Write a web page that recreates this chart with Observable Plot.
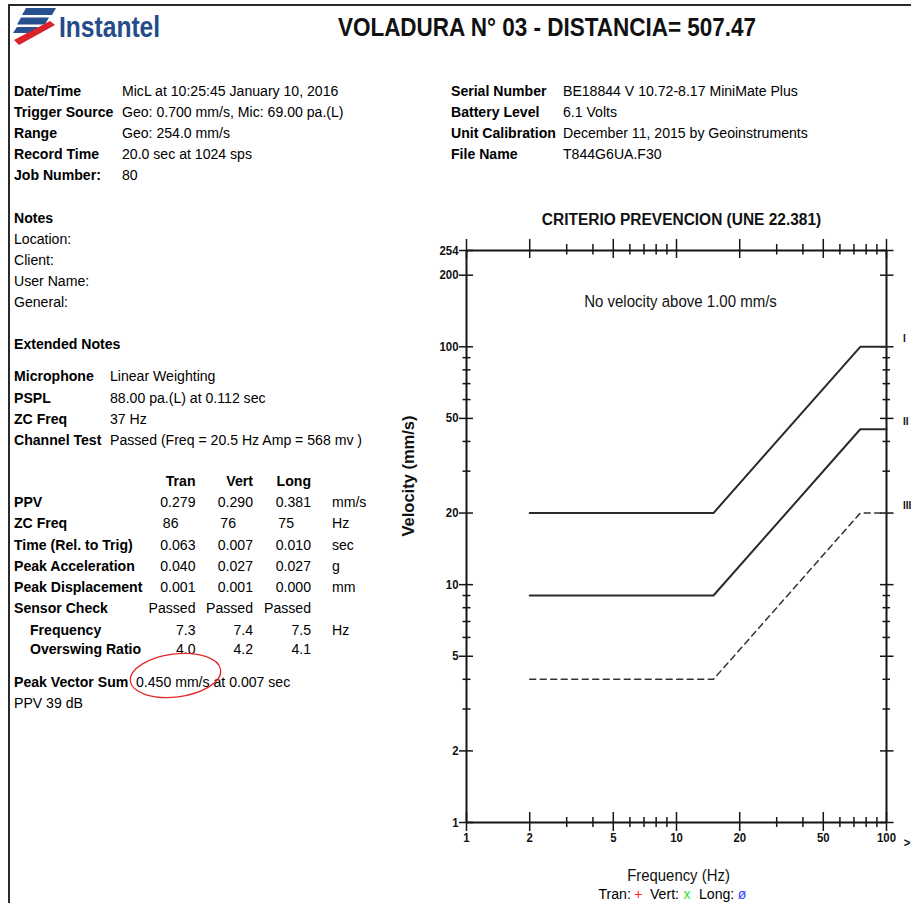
<!DOCTYPE html>
<html><head><meta charset="utf-8">
<script src="https://cdn.jsdelivr.net/npm/d3@7"></script>
<script src="https://cdn.jsdelivr.net/npm/@observablehq/plot@0.6"></script>
<style>
html,body{margin:0;padding:0;background:#fff;overflow:hidden;width:911px;height:903px;}
#page{position:relative;width:911px;height:903px;overflow:hidden;}
#chart{position:absolute;left:380px;top:200px;}
#overlay{position:absolute;left:0;top:0;pointer-events:none;}
#chart svg g[aria-label="x-axis tick label"], #chart svg g[aria-label="y-axis tick label"],
#chart svg g[aria-label="x-axis tick label"] text, #chart svg g[aria-label="y-axis tick label"] text {
  font-size: 12.5px !important; font-weight: bold !important; fill: #111;
}
</style></head>
<body><div id="page"><div id="chart"></div><svg id="overlay" width="911" height="903"></svg></div>
<script>
const SQ = 0.91;
const FONT = "'Liberation Sans', Arial, Helvetica, sans-serif";

// ---- chart data (UNE 22.381 criteria curves) ----
const criteria = ["I", "II", "III"];
const breakFreqs = [2, 15, 75, 100];
const velI = [20, 20, 100, 100];
const velII = [9, 9, 45, 45];
const velIII = [4, 4, 20, 20];
const yLabelTicks = [1, 2, 5, 10, 20, 50, 100, 200, 254];
const yMinorTicks = [3, 4, 6, 7, 8, 9, 30, 40, 60, 70, 80, 90];
const xLabelTicks = [1, 2, 5, 10, 20, 50, 100];
const xMinorTicks = [3, 4, 6, 7, 8, 9, 30, 40, 60, 70, 80, 90];
const chartTitle = "CRITERIO PREVENCION (UNE 22.381)";
const chartNote = "No velocity above 1.00 mm/s";
const xTitle = "Frequency (Hz)";
const yTitle = "Velocity (mm/s)";

// ---- report text data ----
const reportTitle = "VOLADURA N° 03 - DISTANCIA= 507.47";
const infoLabels = ["Date/Time", "Trigger Source", "Range", "Record Time", "Job Number:"];
const infoValues = ["MicL at 10:25:45 January 10, 2016", "Geo: 0.700 mm/s, Mic: 69.00 pa.(L)", "Geo: 254.0 mm/s", "20.0 sec at 1024 sps", "80"];
const unitLabels = ["Serial Number", "Battery Level", "Unit Calibration", "File Name"];
const unitValues = ["BE18844 V 10.72-8.17 MiniMate Plus", "6.1 Volts", "December 11, 2015 by Geoinstruments", "T844G6UA.F30"];
const noteLabels = ["Location:", "Client:", "User Name:", "General:"];
const micLabels = ["Microphone", "PSPL", "ZC Freq", "Channel Test"];
const micValues = ["Linear Weighting", "88.00 pa.(L) at 0.112 sec", "37 Hz", "Passed (Freq = 20.5 Hz Amp = 568 mv )"];
const channels = ["Tran", "Vert", "Long"];
const ppvVals = ["0.279", "0.290", "0.381"];
const zcVals = ["86", "76", "75"];
const timeVals = ["0.063", "0.007", "0.010"];
const accVals = ["0.040", "0.027", "0.027"];
const dispVals = ["0.001", "0.001", "0.000"];
const sensorVals = ["Passed", "Passed", "Passed"];
const freqVals = ["7.3", "7.4", "7.5"];
const overswingVals = ["4.0", "4.2", "4.1"];
const pvsValue = "0.450 mm/s at 0.007 sec";
const ppvDb = "PPV 39 dB";

// ---- chart ----
const solidData = [["I", velI], ["II", velII]].flatMap(([c, vs]) => breakFreqs.map((f, i) => ({c, f, v: vs[i]})));
const dashData = breakFreqs.map((f, i) => ({c: "III", f, v: velIII[i]}));
const labelData = criteria.map((c, i) => ({c, v: [velI, velII, velIII][i][breakFreqs.length - 1]}));
const AX = "#151515";

const plot = Plot.plot({
  width: 531, height: 703,
  marginLeft: 86, marginRight: 25, marginTop: 50, marginBottom: 81,
  style: {fontFamily: FONT, fontSize: "12.5px", fontWeight: "bold", color: "#111", background: "none", overflow: "visible"},
  x: {type: "log", domain: [1, 100], ticks: xLabelTicks, tickFormat: d => String(d), tickSize: 0, tickPadding: 11, label: null},
  y: {type: "log", domain: [1, 254], ticks: yLabelTicks, tickFormat: d => String(d), tickSize: 0, tickPadding: 8, label: null},
  marks: [
    // frame
    Plot.ruleX([1, 100], {y1: 1, y2: 254, stroke: AX, strokeWidth: 2}),
    Plot.ruleY([1, 254], {x1: 1, x2: 100, stroke: AX, strokeWidth: 2}),
    // left ticks
    Plot.ruleY(yLabelTicks, {x1: 1, x2: 1, insetLeft: -7, insetRight: -7, stroke: AX, strokeWidth: 1.5}),
    Plot.ruleY(yMinorTicks, {x1: 1, x2: 1, insetLeft: -3.5, insetRight: -4.5, stroke: AX, strokeWidth: 1.5}),
    // right ticks
    Plot.ruleY(yLabelTicks, {x1: 100, x2: 100, insetLeft: -6, insetRight: -7.5, stroke: AX, strokeWidth: 1.5}),
    Plot.ruleY(yMinorTicks, {x1: 100, x2: 100, insetLeft: -3.5, insetRight: -4, stroke: AX, strokeWidth: 1.5}),
    // top ticks
    Plot.ruleX(xLabelTicks, {y1: 254, y2: 254, insetTop: -11, insetBottom: -8, stroke: AX, strokeWidth: 1.5}),
    Plot.ruleX(xMinorTicks, {y1: 254, y2: 254, insetTop: -6, insetBottom: -4.5, stroke: AX, strokeWidth: 1.5}),
    // bottom ticks
    Plot.ruleX(xLabelTicks, {y1: 1, y2: 1, insetTop: -10, insetBottom: -9, stroke: AX, strokeWidth: 1.5}),
    Plot.ruleX(xMinorTicks, {y1: 1, y2: 1, insetTop: -5, insetBottom: -5, stroke: AX, strokeWidth: 1.5}),
    // criteria curves
    Plot.line(solidData, {x: "f", y: "v", z: "c", stroke: "#2a2a2a", strokeWidth: 2}),
    Plot.line(dashData, {x: "f", y: "v", z: "c", stroke: "#333", strokeWidth: 1.5, strokeDasharray: "6,4.5"}),
    Plot.text(labelData, {x: 100, y: "v", text: "c", dx: 16.5, dy: -8, textAnchor: "start", lineAnchor: "middle", fontSize: 11, fontWeight: "bold", fill: "#111"}),
    Plot.text([">"], {x: 100, y: 1, dx: 20.5, dy: 20, textAnchor: "middle", lineAnchor: "middle", fontSize: 12.5, fontWeight: "bold", fill: "#111"}),
    // titles
    Plot.text([chartTitle], {frameAnchor: "top", lineAnchor: "middle", dx: 5, dy: -31, fontSize: 17, fontWeight: "bold", fill: "#111"}),
    Plot.text([chartNote], {frameAnchor: "top", lineAnchor: "middle", dx: 4, dy: 51, fontSize: 16.5, fontWeight: "normal", fill: "#111"}),
    Plot.text([xTitle], {frameAnchor: "bottom", lineAnchor: "middle", dx: 2, dy: 53, fontSize: 16.4, fontWeight: "normal", fill: "#111"}),
    Plot.text([yTitle], {frameAnchor: "left", lineAnchor: "middle", dx: -58, rotate: -90, fontSize: 16.5, fontWeight: "bold", fill: "#111"})
  ]
});
const chartEl = document.getElementById("chart");
chartEl.appendChild(plot);

// horizontal squeeze of chart texts (report image is horizontally compressed)
plot.querySelectorAll("text").forEach(el => {
  const tr = el.getAttribute("transform") || "";
  if (tr.includes("rotate") || el.textContent === yTitle) return;
  const b = el.getBBox();
  const a = getComputedStyle(el).textAnchor;
  const ax = a === "end" ? b.x + b.width : a === "middle" ? b.x + b.width / 2 : b.x;
  el.setAttribute("transform", `${tr} translate(${ax},0) scale(${SQ},1) translate(${-ax},0)`);
});

// ---- report overlay ----
const ov = d3.select("#overlay");
function txt(x, yc, s, {size = 15.5, weight = "normal", anchor = "start", fill = "#000", sq = SQ} = {}) {
  const base = yc + 0.358 * size;
  return ov.append("text").attr("x", x).attr("y", base)
    .attr("font-family", FONT).attr("font-size", size).attr("font-weight", weight)
    .attr("text-anchor", anchor).attr("fill", fill)
    .attr("transform", `translate(${x},0) scale(${sq},1) translate(${-x},0)`)
    .text(s);
}

// borders
ov.append("line").attr("x1", 8).attr("x2", 911).attr("y1", 5).attr("y2", 5).attr("stroke", "#2a2a2a").attr("stroke-width", 2);
ov.append("line").attr("x1", 9).attr("x2", 9).attr("y1", 4).attr("y2", 903).attr("stroke", "#2a2a2a").attr("stroke-width", 2);

// logo
const lg = ov.append("g");
const blue = "#27508f";
[[[26, 8], [56, 8], [52, 15], [22, 15]], [[21, 17.5], [49, 17.5], [45, 24.5], [17, 24.5]], [[17, 27], [38, 27], [34, 33], [13, 33]]]
  .forEach(p => lg.append("polygon").attr("points", p.join(" ")).attr("fill", blue));
lg.append("polygon").attr("points", [[14, 40], [50, 21], [55, 25], [19, 45]].join(" ")).attr("fill", "#d8232a");
txt(59, 26, "Instantel", {size: 30, weight: "bold", fill: "#244b8a", sq: 0.82});

// header title
txt(547, 27, reportTitle, {size: 25, weight: "bold", anchor: "middle", fill: "#111", sq: 0.9});

// info block
const infoY = [90.5, 111.5, 132.5, 153.5, 174.5];
infoLabels.forEach((l, i) => txt(14, infoY[i], l, {weight: "bold"}));
infoValues.forEach((v, i) => txt(122, infoY[i], v));
unitLabels.forEach((l, i) => txt(451, infoY[i], l, {weight: "bold"}));
unitValues.forEach((v, i) => txt(563, infoY[i], v));

// notes
txt(14, 217.5, "Notes", {weight: "bold"});
noteLabels.forEach((l, i) => txt(14, 238 + i * 21, l));
txt(14, 343, "Extended Notes", {weight: "bold"});
const micY = [375.5, 397, 418, 439];
micLabels.forEach((l, i) => txt(14, micY[i], l, {weight: "bold"}));
micValues.forEach((v, i) => txt(110, micY[i], v));

// channel table
const colRight = [195.5, 253, 311];
channels.forEach((c, i) => txt(colRight[i], 480.5, c, {weight: "bold", anchor: "end"}));
const rows = [
  {label: "PPV", vals: ppvVals, unit: "mm/s", y: 501.5},
  {label: "ZC Freq", vals: zcVals, unit: "Hz", y: 522.5, shift: -17},
  {label: "Time (Rel. to Trig)", vals: timeVals, unit: "sec", y: 544},
  {label: "Peak Acceleration", vals: accVals, unit: "g", y: 565},
  {label: "Peak Displacement", vals: dispVals, unit: "mm", y: 586.5},
  {label: "Sensor Check", vals: sensorVals, unit: "", y: 607.5},
  {label: "Frequency", vals: freqVals, unit: "Hz", y: 629, indent: 16},
  {label: "Overswing Ratio", vals: overswingVals, unit: "", y: 648.5, indent: 16}
];
rows.forEach(r => {
  txt(14 + (r.indent || 0), r.y, r.label, {weight: "bold"});
  r.vals.forEach((v, i) => txt(colRight[i] + (r.shift || 0), r.y, v, {anchor: "end"}));
  if (r.unit) txt(332, r.y, r.unit);
});
txt(14, 681, "Peak Vector Sum", {weight: "bold"});
txt(136, 681, pvsValue);
txt(14, 702, ppvDb);

// red highlight ellipse
ov.append("ellipse").attr("cx", 175.5).attr("cy", 675.5).attr("rx", 45.5).attr("ry", 21.5)
  .attr("transform", "rotate(-7 175.5 675.5)")
  .attr("fill", "none").attr("stroke", "#e3262a").attr("stroke-width", 1.3);

// legend under x axis
const legY = 893.5;
txt(598.5, legY, "Tran:", {size: 15.5});
txt(638.5, legY, "+", {size: 15.5, anchor: "middle", fill: "#ff2020"});
txt(650, legY, "Vert:", {size: 15.5});
txt(687, legY, "x", {size: 15.5, anchor: "middle", fill: "#2ee02e"});
txt(699, legY, "Long:", {size: 15.5});
txt(742, legY, "ø", {size: 15.5, anchor: "middle", fill: "#3a46ff"});
</script></body></html>
